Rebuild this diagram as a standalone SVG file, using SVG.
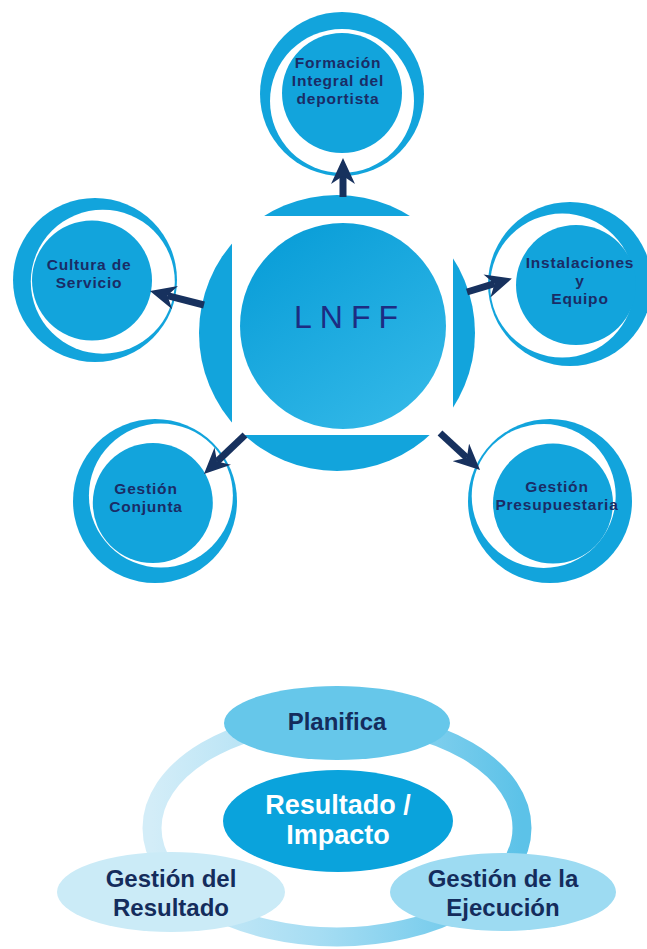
<svg xmlns="http://www.w3.org/2000/svg" width="647" height="949" viewBox="0 0 647 949">
  <defs>
    <style>
      .cyan { fill: #12a4dc; }
      .hole { fill: #ffffff; }
      .label { font-family: "Liberation Sans", Arial, sans-serif; font-weight: bold; font-size: 15.5px; letter-spacing: 0.8px; fill: #1a2c66; text-anchor: middle; }
      .big { font-family: "Liberation Sans", Arial, sans-serif; font-weight: bold; font-size: 24px; fill: #142c5c; text-anchor: middle; }
      .white { fill: #ffffff; font-size: 27px; }
      .link { fill: none; stroke: #17315e; stroke-width: 7; marker-end: url(#arrowHead); }
    </style>
    <marker id="arrowHead" markerUnits="userSpaceOnUse" markerWidth="26" markerHeight="24" viewBox="0 -12 26 24" refX="8" refY="0" orient="auto">
      <path d="M26,0 L0,-12 L8,0 L0,12 Z" fill="#17315e"/>
    </marker>
    <linearGradient id="hubFill" x1="0.2" y1="0.05" x2="0.85" y2="1">
      <stop offset="0" stop-color="#0a9ed8"/>
      <stop offset="1" stop-color="#34b9e8"/>
    </linearGradient>
    <linearGradient id="ringStroke" x1="0" y1="0" x2="1" y2="0">
      <stop offset="0" stop-color="#d3edf8"/>
      <stop offset="0.45" stop-color="#a6ddf3"/>
      <stop offset="1" stop-color="#5cc2e8"/>
    </linearGradient>
  </defs>

  <rect width="647" height="949" fill="#ffffff"/>

  <!-- Hub: thick ring cut by a square window, with the main disc inside -->
  <g id="hub">
    <circle class="cyan" cx="337" cy="333" r="138"/>
    <rect class="hole" x="232" y="216" width="221" height="219"/>
    <circle cx="343" cy="326" r="103" fill="url(#hubFill)"/>
    <text x="350" y="328" font-family="'Liberation Sans', Arial, sans-serif" font-size="32" letter-spacing="8" fill="#1d2c82" text-anchor="middle">LNFF</text>
  </g>

  <!-- Satellite nodes: swoosh ring (outer disc minus offset hole) plus inner disc -->
  <g id="formacion">
    <circle class="cyan" cx="342" cy="94" r="82"/>
    <circle class="hole" cx="342" cy="101" r="72"/>
    <circle class="cyan" cx="342" cy="93" r="60"/>
    <text class="label" x="338" y="67.5">Formación</text>
    <text class="label" x="338" y="85.5">Integral del</text>
    <text class="label" x="338" y="103.5">deportista</text>
  </g>

  <g id="cultura">
    <circle class="cyan" cx="95" cy="280" r="82"/>
    <circle class="hole" cx="102.8" cy="281.7" r="72"/>
    <circle class="cyan" cx="92" cy="280.5" r="60"/>
    <text class="label" x="89" y="269.5">Cultura de</text>
    <text class="label" x="89" y="287.5">Servicio</text>
  </g>

  <g id="instalaciones">
    <circle class="cyan" cx="570" cy="284" r="82"/>
    <circle class="hole" cx="562.2" cy="285.6" r="72"/>
    <circle class="cyan" cx="576" cy="285" r="60"/>
    <text class="label" x="580" y="268">Instalaciones</text>
    <text class="label" x="580" y="286">y</text>
    <text class="label" x="580" y="304">Equipo</text>
  </g>

  <g id="conjunta">
    <circle class="cyan" cx="155" cy="501" r="82"/>
    <circle class="hole" cx="160.9" cy="495.6" r="72"/>
    <circle class="cyan" cx="152.8" cy="503" r="60"/>
    <text class="label" x="146" y="494">Gestión</text>
    <text class="label" x="146" y="512">Conjunta</text>
  </g>

  <g id="presupuestaria">
    <circle class="cyan" cx="550" cy="501" r="82"/>
    <circle class="hole" cx="543.7" cy="496" r="72"/>
    <circle class="cyan" cx="553" cy="503.5" r="60"/>
    <text class="label" x="557" y="492">Gestión</text>
    <text class="label" x="557" y="510">Presupuestaria</text>
  </g>

  <!-- Arrows from the hub out to each satellite -->
  <g id="connectors">
    <path class="link" d="M343,197 L343,176"/>
    <path class="link" d="M204,305 L167.4,295.6"/>
    <path class="link" d="M467,292 L494.6,283.7"/>
    <path class="link" d="M245,435 L217,461.6"/>
    <path class="link" d="M440,433 L466.8,457.8"/>
  </g>

  <!-- Cycle: ring with four ellipses -->
  <g id="cycle-ring">
    <ellipse cx="337" cy="828" rx="185" ry="109" fill="none" stroke="url(#ringStroke)" stroke-width="19"/>
  </g>

  <g id="planifica">
    <ellipse cx="337" cy="723" rx="113" ry="37" fill="#66c7ea"/>
    <text class="big" x="337" y="730">Planifica</text>
  </g>

  <g id="resultado-impacto">
    <ellipse cx="338" cy="821" rx="115" ry="51" fill="#0aa3dc"/>
    <text class="big white" x="338" y="814">Resultado /</text>
    <text class="big white" x="338" y="844">Impacto</text>
  </g>

  <g id="gestion-resultado">
    <ellipse cx="171" cy="892" rx="114" ry="40" fill="#cbebf7"/>
    <text class="big" x="171" y="887">Gestión del</text>
    <text class="big" x="171" y="916">Resultado</text>
  </g>

  <g id="gestion-ejecucion">
    <ellipse cx="503" cy="892" rx="113" ry="39" fill="#9ddbf2"/>
    <text class="big" x="503" y="887">Gestión de la</text>
    <text class="big" x="503" y="916">Ejecución</text>
  </g>
</svg>
